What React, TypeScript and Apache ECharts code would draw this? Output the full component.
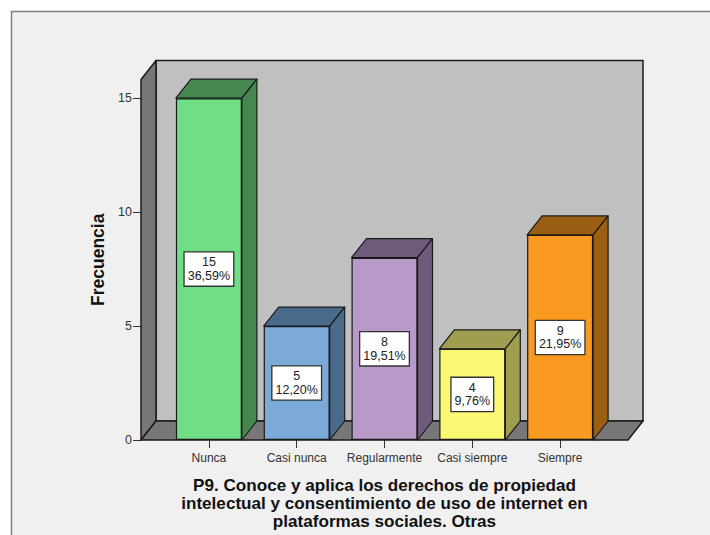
import React, { useEffect, useRef } from "react";
import * as echarts from "echarts";

const categories = ["Nunca", "Casi nunca", "Regularmente", "Casi siempre", "Siempre"];
const counts = [15, 5, 8, 4, 9];
const percents = ["36,59%", "12,20%", "19,51%", "9,76%", "21,95%"];
const frontColors = ["#70de84", "#7ba9d8", "#b89ac8", "#fbf873", "#fb9a20"];
const sideColors = ["#45874f", "#4a6a8a", "#6f5a7b", "#9f9e50", "#9b5f14"];
const yTicks = [0, 5, 10, 15];
const xTitle = "P9. Conoce y aplica los derechos de propiedad\nintelectual y consentimiento de uso de internet en\nplataformas sociales. Otras";
const yTitle = "Frecuencia";

const DX = 15;
const DY = -19;
const HALF = 33;
const PAD = 24;
const EDGE = "#1a1a1a";

export default function App() {
  const ref = useRef<HTMLDivElement>(null);
  useEffect(() => {
    const chart = echarts.init(ref.current!, null, { renderer: "svg" });
    chart.setOption({
      animation: false,
      backgroundColor: "#ffffff",
      graphic: [
        {
          type: "rect",
          z: 0,
          shape: { x: 11.5, y: 11.5, width: 720, height: 560 },
          style: { fill: "#f0f0f0", stroke: "#808080", lineWidth: 1.5 },
        },
      ],
      grid: { left: 165, width: 439, top: 79.5, height: 362 },
      xAxis: {
        type: "category",
        data: categories,
        axisLine: { show: false },
        axisTick: { show: true, alignWithLabel: true, length: 8, lineStyle: { color: "#333", width: 1 } },
        axisLabel: { fontFamily: "Liberation Sans", fontSize: 12, color: "#333", margin: 12, interval: 0 },
        name: xTitle,
        nameLocation: "middle",
        nameGap: 36,
        nameTextStyle: {
          fontFamily: "Liberation Sans",
          fontWeight: "bold",
          fontSize: 17.1,
          color: "#111",
          lineHeight: 18,
          verticalAlign: "top",
        },
      },
      yAxis: {
        type: "value",
        min: 0,
        max: 15.82,
        offset: PAD,
        splitLine: { show: false },
        axisLine: { show: false },
        axisTick: { show: true, length: 8, customValues: yTicks, lineStyle: { color: "#333", width: 1 } },
        axisLabel: { fontFamily: "Liberation Sans", fontSize: 12.5, color: "#333", margin: 9, customValues: yTicks },
        name: yTitle,
        nameLocation: "middle",
        nameGap: 33,
        nameRotate: 90,
        nameTextStyle: { fontFamily: "Liberation Sans", fontWeight: "bold", fontSize: 17.5, color: "#111" },
      },
      series: [
        {
          type: "custom",
          coordinateSystem: "cartesian2d",
          z: 1,
          silent: true,
          data: [[0, 0]],
          renderItem: (params: any) => {
            const c = params.coordSys;
            const l = c.x - PAD;
            const r = c.x + c.width + PAD;
            const t = c.y;
            const b = c.y + c.height;
            const edge = { stroke: EDGE, lineWidth: 1.5, lineJoin: "round" };
            return {
              type: "group",
              children: [
                {
                  type: "polygon",
                  shape: { points: [[l + DX, t + DY], [r + DX, t + DY], [r + DX, b + DY], [l + DX, b + DY]] },
                  style: { fill: "#c0c0c0", ...edge },
                },
                {
                  type: "polygon",
                  shape: { points: [[l, t], [l + DX, t + DY], [l + DX, b + DY], [l, b]] },
                  style: { fill: "#777777", ...edge },
                },
                {
                  type: "polygon",
                  shape: { points: [[l, b], [l + DX, b + DY], [r + DX, b + DY], [r, b]] },
                  style: { fill: "#777777", ...edge },
                },
              ],
            };
          },
        },
        {
          type: "custom",
          coordinateSystem: "cartesian2d",
          z: 2,
          silent: true,
          encode: { x: 0, y: 1 },
          data: counts.map((v, i) => [i, v]),
          renderItem: (params: any, api: any) => {
            const i = api.value(0);
            const [cx, top] = api.coord([i, api.value(1)]);
            const [, base] = api.coord([i, 0]);
            const l = cx - HALF;
            const r = cx + HALF;
            const style = { fill: sideColors[params.dataIndex], stroke: EDGE, lineWidth: 1.2, lineJoin: "round" };
            return {
              type: "group",
              children: [
                {
                  type: "polygon",
                  shape: { points: [[l, top], [l + DX, top + DY], [r + DX, top + DY], [r, top]] },
                  style,
                },
                {
                  type: "polygon",
                  shape: { points: [[r, top], [r + DX, top + DY], [r + DX, base + DY], [r, base]] },
                  style,
                },
              ],
            };
          },
        },
        {
          type: "bar",
          z: 3,
          barWidth: HALF * 2,
          silent: true,
          data: counts.map((v, i) => ({
            value: v,
            itemStyle: { color: frontColors[i], borderColor: EDGE, borderWidth: 1.2 },
          })),
          label: {
            show: true,
            position: "inside",
            formatter: (p: any) => `${counts[p.dataIndex]}\n${percents[p.dataIndex]}`,
            fontFamily: "Liberation Sans",
            fontSize: 12.5,
            lineHeight: 13.5,
            color: "#222",
            align: "center",
            backgroundColor: "#ffffff",
            borderColor: "#333",
            borderWidth: 1.3,
            padding: [3, 3, 3, 3],
          },
        },
      ],
    });
    return () => chart.dispose();
  }, []);
  return (
    <div
      ref={ref}
      style={{ position: "absolute", left: 0, top: 0, width: 710, height: 535 }}
    />
  );
}
